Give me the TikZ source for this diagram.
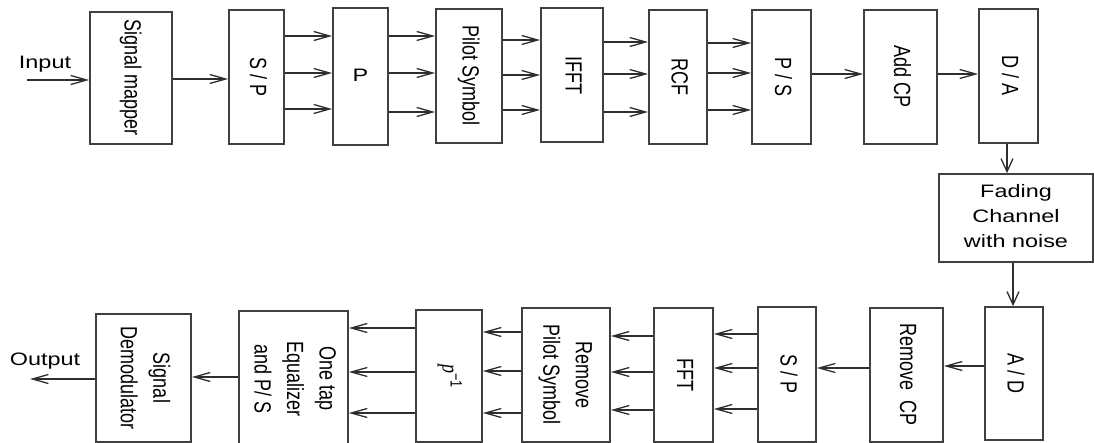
\documentclass[tikz,border=0pt]{standalone}
\usepackage{fontspec}
\setmainfont{Liberation Sans}
\newfontfamily\serifit{Liberation Serif}
\usetikzlibrary{arrows.meta}
\newcommand\vtxt[1]{\rotatebox{-90}{\scalebox{1}[1.3]{\begin{tabular}{@{}c@{}}#1\end{tabular}}}}
\newcommand\htxt[1]{\scalebox{1.3}[1]{\begin{tabular}{@{}c@{}}#1\end{tabular}}}
\definecolor{boxc}{HTML}{404040}
\definecolor{linec}{HTML}{2E2E2E}
\begin{document}
\begin{tikzpicture}[x=1pt,y=-1pt,
  box/.style={draw=boxc,line width=1.8pt,fill=white,inner sep=0pt,
    font=\fontsize{18}{25}\selectfont,text=black},
  lbl/.style={inner sep=0pt,font=\fontsize{18}{25}\selectfont,text=black},
  arr/.style={draw=linec,line width=1.3pt,-{Straight Barb[length=16pt,width=9pt]}},
  varr/.style={draw=linec,line width=1.3pt,-{Straight Barb[length=13pt,width=12pt]}}]
\fill[white] (0,0) rectangle (1094,443);
\useasboundingbox (0,0) rectangle (1094,443);
% top row
\node[box,minimum width=82pt,minimum height=132pt] (sm) at (131,78) {\vtxt{Signal mapper}};
\node[box,minimum width=55pt,minimum height=134pt] (sp1) at (256.5,77) {\vtxt{S / P}};
\node[box,minimum width=55pt,minimum height=137pt] (P) at (360.5,76.5) {\htxt{P}};
\node[box,minimum width=66pt,minimum height=134pt] (pil) at (469,76) {\vtxt{Pilot Symbol}};
\node[box,minimum width=62pt,minimum height=134pt] (ifft) at (572,75) {\vtxt{IFFT}};
\node[box,minimum width=58pt,minimum height=134pt] (rcf) at (678,77) {\vtxt{RCF}};
\node[box,minimum width=59pt,minimum height=134pt] (ps) at (781.5,77) {\vtxt{P / S}};
\node[box,minimum width=73pt,minimum height=134pt] (acp) at (900.5,77) {\vtxt{Add CP}};
\node[box,minimum width=59pt,minimum height=134pt] (da) at (1008.5,76) {\vtxt{D / A}};
\node[box,minimum width=154pt,minimum height=88pt] (fad) at (1016,218) {\htxt{Fading\\Channel\\with noise}};
% bottom row
\node[box,minimum width=58pt,minimum height=133pt] (ad) at (1014,373.5) {\vtxt{A / D}};
\node[box,minimum width=73pt,minimum height=134pt] (rcp) at (906.5,375) {\vtxt{Remove\ \ CP}};
\node[box,minimum width=58pt,minimum height=135pt] (sp2) at (787,374.5) {\vtxt{S / P}};
\node[box,minimum width=59pt,minimum height=134pt] (fft) at (683.5,375) {\vtxt{FFT}};
\node[box,minimum width=88pt,minimum height=134pt] (rps) at (566,375) {\vtxt{Remove\\Pilot Symbol}};
\node[box,minimum width=66pt,minimum height=132pt] (pinv) at (449,376) {\vtxt{{\serifit\itshape p}\textsuperscript{−1}}};
\node[box,minimum width=109pt,minimum height=136pt] (eq) at (293.5,379) {\vtxt{One tap\\Equalizer\\and P/ S}};
\node[box,minimum width=95pt,minimum height=128pt] (sd) at (143.5,378) {\vtxt{Signal\\Demodulator}};
% labels
\node[lbl] (inl) at (45,64) {\htxt{Input}};
\node[lbl] (outl) at (45,360) {\htxt{Output}};
\coordinate (in) at (27,80);
\coordinate (out) at (30,379);
% top connectors
\draw[arr] (in) -- (sm.west |- in);
\draw[arr] (sm.east |- 0,79) -- (sp1.west |- 0,79);
\foreach \y in {36,73,109} \draw[arr] (sp1.east |- 0,\y) -- (P.west |- 0,\y);
\foreach \y in {36,73,112} \draw[arr] (P.east |- 0,\y) -- (pil.west |- 0,\y);
\foreach \y in {40,75,110} \draw[arr] (pil.east |- 0,\y) -- (ifft.west |- 0,\y);
\foreach \y in {42,74,112} \draw[arr] (ifft.east |- 0,\y) -- (rcf.west |- 0,\y);
\foreach \y in {43,73,110} \draw[arr] (rcf.east |- 0,\y) -- (ps.west |- 0,\y);
\draw[arr] (ps.east |- 0,74) -- (acp.west |- 0,74);
\draw[arr] (acp.east |- 0,74) -- (da.west |- 0,74);
\draw[varr] (da.south -| 1007,0) -- (fad.north -| 1007,0);
\draw[varr] (fad.south -| 1013,0) -- (ad.north -| 1013,0);
% bottom connectors
\draw[arr] (ad.west |- 0,366) -- (rcp.east |- 0,366);
\draw[arr] (rcp.west |- 0,368) -- (sp2.east |- 0,368);
\foreach \y in {334,368,409} \draw[arr] (sp2.west |- 0,\y) -- (fft.east |- 0,\y);
\foreach \y in {336,372,410} \draw[arr] (fft.west |- 0,\y) -- (rps.east |- 0,\y);
\foreach \y in {332,371,413} \draw[arr] (rps.west |- 0,\y) -- (pinv.east |- 0,\y);
\foreach \y in {328,372,413} \draw[arr] (pinv.west |- 0,\y) -- (eq.east |- 0,\y);
\draw[arr] (eq.west |- 0,377) -- (sd.east |- 0,377);
\draw[arr] (sd.west |- out) -- (out);
\end{tikzpicture}
\end{document}
